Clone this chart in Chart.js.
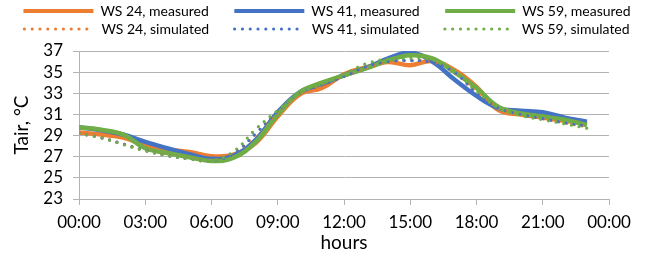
<!DOCTYPE html>
<html>
<head>
<meta charset="utf-8">
<script src="https://cdn.jsdelivr.net/npm/chart.js@4/dist/chart.umd.min.js"></script>
<style>
  html, body { margin: 0; padding: 0; background: #fff; }
  #wrap { width: 654px; height: 254px; }
</style>
</head>
<body>
<div id="wrap"><canvas id="tairChart"></canvas></div>
<script>
// hourly air temperature, 00:00 .. 23:00
const hours = [0, 1, 2, 3, 4, 5, 6, 7, 8, 9, 10, 11, 12, 13, 14, 15, 16, 17, 18, 19, 20, 21, 22, 23];
const ws24Measured = [29.3, 29.1, 28.8, 28.1, 27.7, 27.45, 27.05, 27.2, 28.3, 30.8, 32.9, 33.5, 34.8, 35.45, 35.95, 35.65, 36.05, 35.2, 33.6, 31.4, 31.0, 30.7, 30.4, 30.1];
const ws41Measured = [29.8, 29.5, 29.1, 28.4, 27.8, 27.25, 26.8, 27.1, 28.6, 31.2, 33.1, 33.9, 34.7, 35.4, 36.3, 36.85, 36.0, 34.3, 32.75, 31.6, 31.35, 31.2, 30.7, 30.3];
const ws59Measured = [29.8, 29.55, 29.1, 27.8, 27.35, 26.95, 26.6, 26.9, 28.4, 31.0, 33.1, 34.0, 34.7, 35.35, 36.1, 36.6, 36.3, 35.0, 33.5, 31.7, 31.1, 30.8, 30.5, 30.0];
const ws24Simulated = [29.2, 28.8, 28.2, 27.6, 27.15, 26.85, 26.65, 27.3, 29.1, 31.2, 32.9, 33.8, 34.6, 35.4, 35.95, 36.1, 35.95, 35.0, 33.1, 31.6, 31.0, 30.6, 30.2, 29.85];
const ws41Simulated = [29.2, 28.8, 28.2, 27.6, 27.1, 26.8, 26.6, 27.3, 29.2, 31.3, 33.0, 33.8, 34.6, 35.5, 36.0, 36.1, 35.9, 35.0, 33.0, 31.6, 31.0, 30.6, 30.2, 29.9];
const ws59Simulated = [29.2, 28.8, 28.15, 27.55, 27.1, 26.8, 26.6, 27.5, 29.6, 31.4, 33.0, 33.9, 34.8, 35.8, 36.25, 36.3, 36.2, 35.1, 33.2, 31.6, 30.9, 30.5, 30.1, 29.7];
const seriesNames = ['WS 24, measured', 'WS 41, measured', 'WS 59, measured', 'WS 24, simulated', 'WS 41, simulated', 'WS 59, simulated'];
const xTickLabels = ['00:00', '03:00', '06:00', '09:00', '12:00', '15:00', '18:00', '21:00', '00:00'];

const ORANGE = '#ED7D31', BLUE = '#4472C4', GREEN = '#70AD47';
const GRID = '#b3b3b3';
const FONT = 'Lato, "Liberation Sans", sans-serif';
const LEGEND_GAP = '      ';   // widens the legend columns, Excel style

const pts = (vals) => vals.map((v, i) => ({ x: hours[i], y: v }));

function measured(name, vals, color, order) {
    return { label: name, data: pts(vals), borderColor: color, backgroundColor: color,
        borderWidth: 4.5, pointRadius: 0, tension: 0.4, order };
}
function simulated(name, vals, color, order) {
    return { label: name, data: pts(vals), borderColor: color, backgroundColor: color,
        borderWidth: 3.2, borderDash: [0, 7.8], borderCapStyle: 'round',
        pointRadius: 0, tension: 0.4, order };
}

function legendLabels(chart) {
    return chart.data.datasets.map((ds, i) => ({
        text: ds.label + (i % 3 === 2 ? '' : LEGEND_GAP),
        datasetIndex: i,
        fillStyle: ds.borderColor,
        strokeStyle: ds.borderColor,
        fontColor: '#000',
        lineWidth: ds.borderDash ? 3.2 : 4,
        lineDash: ds.borderDash || [],
        lineCap: ds.borderCapStyle || 'butt',
        pointStyle: 'line',
        hidden: false,
    }));
}

new Chart(document.getElementById('tairChart'), {
    type: 'line',
    data: {
        datasets: [
            measured(seriesNames[0], ws24Measured, ORANGE, 6),
            measured(seriesNames[1], ws41Measured, BLUE, 5),
            measured(seriesNames[2], ws59Measured, GREEN, 4),
            simulated(seriesNames[3], ws24Simulated, ORANGE, 3),
            simulated(seriesNames[4], ws41Simulated, BLUE, 2),
            simulated(seriesNames[5], ws59Simulated, GREEN, 1),
        ],
    },
    options: {
        responsive: true, maintainAspectRatio: false, animation: false,
        layout: { padding: 0 },
        plugins: {
            tooltip: { enabled: false },
            legend: {
                position: 'top',
                labels: {
                    usePointStyle: true, pointStyle: 'line', pointStyleWidth: 70,
                    padding: 4, color: '#000',
                    font: { family: FONT, size: 14 },
                    sort: (a, b) => a.datasetIndex - b.datasetIndex,
                    generateLabels: legendLabels,
                },
            },
            // thin spacer between legend and plot
            subtitle: { display: true, text: ' ', position: 'top', weight: 500,
                font: { size: 1, lineHeight: 1 }, padding: { top: 0, bottom: 4 } },
        },
        scales: {
            x: {
                type: 'linear', min: 0, max: 24,
                afterFit: (s) => { s.height = 55; },
                ticks: { stepSize: 3, padding: 7, color: '#000', font: { family: FONT, size: 17 },
                    maxRotation: 0, autoSkip: false, callback: (v, i) => xTickLabels[i] },
                grid: { drawOnChartArea: false, drawTicks: true, tickLength: 6, color: GRID, lineWidth: 1 },
                border: { display: true, color: GRID, width: 1 },
                title: { display: true, text: 'hours', color: '#000', font: { family: FONT, size: 19 },
                    padding: { top: 0, bottom: 0 } },
            },
            y: {
                min: 23, max: 37,
                afterFit: (s) => { s.width = 79; },
                ticks: { stepSize: 2, padding: 10, autoSkip: false, color: '#000',
                    font: { family: FONT, size: 17 } },
                grid: { color: GRID, lineWidth: 1, tickLength: 6 },
                border: { display: true, color: GRID, width: 1 },
                title: { display: true, text: 'Tair, °C', color: '#000', font: { family: FONT, size: 19 },
                    padding: { top: 10, bottom: 0 } },
            },
            yRight: {
                position: 'right', display: true,
                afterFit: (s) => { s.width = 45; },
                ticks: { display: false },
                grid: { display: false },
                border: { display: false },
            },
        },
    },
});
</script>
</body>
</html>
